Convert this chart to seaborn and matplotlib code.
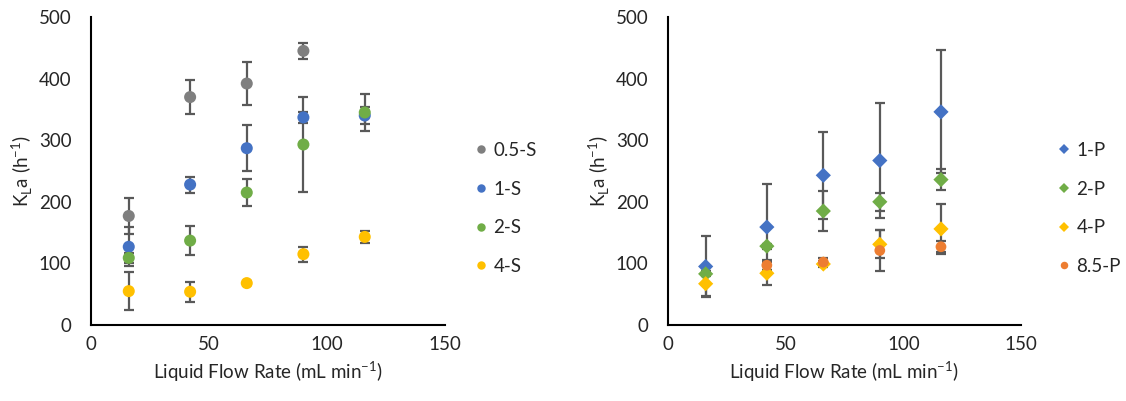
import numpy as np
import pandas as pd
import matplotlib
matplotlib.use("Agg")
import matplotlib.pyplot as plt
import seaborn as sns

# ---------------- data ----------------
flow = [16, 42, 66, 90, 116]

s_names = ["0.5-S", "1-S", "2-S", "4-S"]
s05_x = [16, 42, 66, 90]
s05_y = [177, 370, 392, 445]
s05_e = [29, 27, 35, 13]
s1_x = [16, 42, 66, 90, 116]
s1_y = [127, 228, 287, 337, 340]
s1_e = [32, 13, 37, 9, 14]
s2_x = [16, 42, 66, 90, 116]
s2_y = [109, 137, 215, 293, 345]
s2_e = [8, 24, 22, 77, 30]
s4_x = [16, 42, 66, 90, 116]
s4_y = [55, 54, 68, 115, 143]
s4_e = [31, 16, 3, 12, 10]

p_names = ["1-P", "2-P", "4-P", "8.5-P"]
p1_x = [16, 42, 66, 90, 116]
p1_y = [95, 159, 243, 267, 346]
p1_e = [49, 70, 71, 93, 100]
p2_x = [16, 42, 66, 90, 116]
p2_y = [83, 128, 185, 200, 236]
p2_e = [4, 4, 33, 15, 17]
p4_x = [16, 42, 66, 90, 116]
p4_y = [67, 84, 99, 131, 156]
p4_e = [20, 19, 5, 23, 40]
p85_x = [42, 66, 90, 116]
p85_y = [97, 102, 121, 127]
p85_e = [8, 6, 34, 9]

x_ticks = [0, 50, 100, 150]
y_ticks = [0, 100, 200, 300, 400, 500]

# ---------------- style ----------------
sns.set_theme(style="white")
plt.rcParams["font.family"] = ["Lato", "DejaVu Sans"]
plt.rcParams["mathtext.fontset"] = "custom"
plt.rcParams["mathtext.rm"] = "Lato"
FS = 13.5

GREY, BLUE, GREEN, YELLOW, ORANGE = "#7F7F7F", "#4472C4", "#70AD47", "#FFC000", "#ED7D31"
ERR = "#595959"

def long_df(names, xs, ys, es):
    rows = []
    for n, x, y, e in zip(names, xs, ys, es):
        for xi, yi, ei in zip(x, y, e):
            rows.append((n, xi, yi, ei))
    return pd.DataFrame(rows, columns=["series", "flow", "kla", "err"])

dfS = long_df(s_names, [s05_x, s1_x, s2_x, s4_x], [s05_y, s1_y, s2_y, s4_y],
              [s05_e, s1_e, s2_e, s4_e])
dfP = long_df(p_names, [p1_x, p2_x, p4_x, p85_x], [p1_y, p2_y, p4_y, p85_y],
              [p1_e, p2_e, p4_e, p85_e])

fig = plt.figure(figsize=(11.26, 4.01), dpi=100)
axL = fig.add_axes([91 / 1126, 1 - 325 / 401, 354 / 1126, 308 / 401])
axR = fig.add_axes([668 / 1126, 1 - 325 / 401, 353 / 1126, 308 / 401])

def draw(ax, df, names, palette, markers, sizes, leg_x):
    for n in names:
        d = df[df.series == n]
        ax.errorbar(d.flow, d.kla, yerr=d.err, fmt="none", ecolor=ERR,
                    elinewidth=1.6, capsize=3.5, capthick=1.6, zorder=2)
    sns.scatterplot(data=df, x="flow", y="kla", hue="series", style="series",
                    hue_order=names, style_order=names, palette=palette,
                    markers=markers, size="series", sizes=sizes,
                    linewidth=0, ax=ax, zorder=3, legend=True)
    handles, labels = ax.get_legend_handles_labels()
    ax.get_legend().remove()
    keep = [(h, l) for h, l in zip(handles, labels) if l in names]
    ax.legend([h for h, _ in keep], [l for _, l in keep],
              loc="upper left", bbox_to_anchor=(leg_x, 1 - 142 / 401),
              bbox_transform=fig.transFigure, frameon=False,
              borderaxespad=0, borderpad=0,
              fontsize=FS, labelspacing=1.15, handletextpad=0.05,
              markerscale=0.7, handlelength=1.2)
    ax.set_xlim(0, 150)
    ax.set_ylim(0, 500)
    ax.set_xticks(x_ticks)
    ax.set_yticks(y_ticks)
    ax.tick_params(axis="both", direction="in", length=5, width=1.3,
                   color="black", labelsize=FS, labelcolor="#262626")
    ax.tick_params(axis="x", pad=8)
    ax.tick_params(axis="y", pad=14)
    sns.despine(ax=ax)
    for sp in ["left", "bottom"]:
        ax.spines[sp].set_color("black")
        ax.spines[sp].set_linewidth(1.5)
    ax.set_xlabel("Liquid Flow Rate (mL min$^{\\mathregular{-1}}$)", fontsize=FS,
                  color="#262626", labelpad=4)
    ax.set_ylabel("K$_{\\mathregular{L}}$a (h$^{\\mathregular{-1}}$)", fontsize=FS,
                  color="#262626", labelpad=3)

draw(axL, dfS, s_names, [GREY, BLUE, GREEN, YELLOW],
     ["o", "o", "o", "o"], (75, 75), 470 / 1126)
draw(axR, dfP, p_names, [BLUE, GREEN, YELLOW, ORANGE],
     ["D", "D", "D", "o"], (60, 60), 1053 / 1126)

fig.savefig("out.png", dpi=100)
